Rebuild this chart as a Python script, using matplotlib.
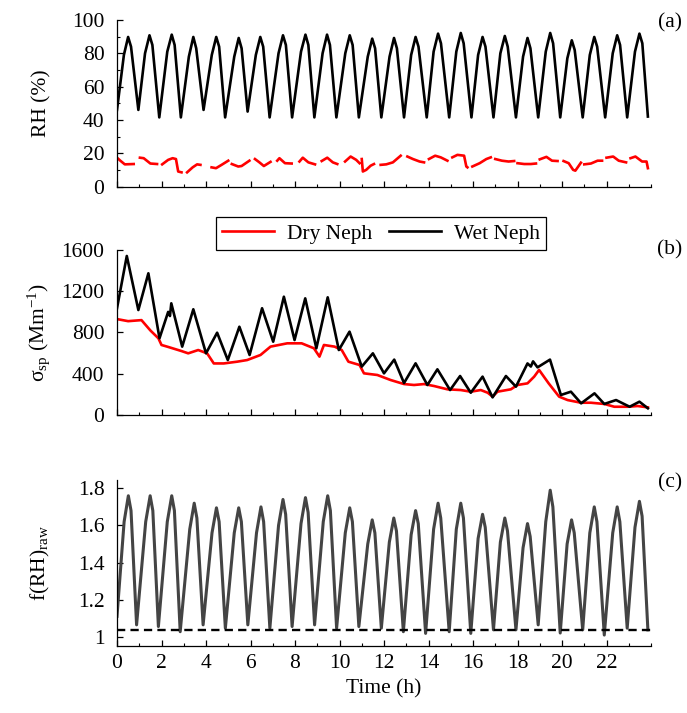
import matplotlib
matplotlib.use("Agg")
import matplotlib.pyplot as plt
import numpy as np
from matplotlib.ticker import MultipleLocator, FixedLocator

plt.rcParams['font.family'] = ['Liberation Serif', 'DejaVu Serif']
plt.rcParams['mathtext.fontset'] = 'custom'
plt.rcParams['mathtext.rm'] = 'Liberation Serif'
plt.rcParams['mathtext.it'] = 'Liberation Serif:italic'

# ---------------- Panel (a): RH ----------------
wet_rh_start = [0.0, 46.0]
wet_rh_rise_t = [0.31, 1.26, 2.26, 3.23, 4.26, 5.27, 6.24, 7.26, 8.27, 9.24, 10.26, 11.27,
                 12.25, 13.22, 14.23, 15.25, 16.23, 17.23, 18.25, 19.27, 20.24, 21.25, 22.28, 23.28]
wet_rh_rise_v = [79, 80, 81, 78, 79, 78, 79, 80, 81, 80, 80, 78,
                 78, 79, 81, 81, 79, 80, 78, 81, 77, 79, 80, 81]
wet_rh_peak_t = [0.50, 1.46, 2.46, 3.43, 4.46, 5.47, 6.44, 7.46, 8.47, 9.44, 10.46, 11.47,
                 12.45, 13.42, 14.43, 15.45, 16.43, 17.43, 18.45, 19.47, 20.44, 21.45, 22.48, 23.48]
wet_rh_peak_v = [89.8, 90.8, 91.2, 89.8, 89.8, 89.2, 89.8, 90.8, 91.2, 91.2, 90.8, 88.8,
                 89.2, 89.8, 91.8, 92.2, 89.8, 90.4, 89.2, 92.2, 87.8, 89.8, 90.8, 91.8]
wet_rh_fall_t = [0.63, 1.59, 2.59, 3.56, 4.59, 5.60, 6.57, 7.59, 8.60, 9.57, 10.59, 11.60,
                 12.58, 13.55, 14.56, 15.58, 16.56, 17.56, 18.58, 19.60, 20.57, 21.58, 22.61, 23.61]
wet_rh_fall_v = [84, 85, 85, 83, 84, 83, 84, 85, 85, 85, 85, 83,
                 83, 84, 86, 86, 84, 84, 83, 86, 82, 84, 85, 86]
wet_rh_trough_t = [0.96, 1.90, 2.87, 3.89, 4.86, 5.87, 6.86, 7.87, 8.87, 9.86, 10.87, 11.88,
                   12.90, 13.92, 14.93, 15.93, 16.92, 17.93, 18.93, 19.92, 20.93, 21.94, 22.93, 23.86]
wet_rh_trough_v = [46.0, 41.5, 41.5, 46.0, 41.5, 45.0, 41.5, 41.5, 41.5, 41.5, 41.5, 41.5,
                   41.5, 41.5, 41.5, 41.5, 41.5, 41.5, 41.5, 41.5, 41.5, 41.5, 41.5, 42.0]

# dry RH: segments separated by gaps (None)
dry_rh_t = [0.00, 0.15, 0.35, 0.75, None,
            1.03, 1.20, 1.50, 1.80, None,
            2.03, 2.30, 2.50, 2.65, 2.75, 2.90, None,
            3.15, 3.40, 3.60, 3.75, None,
            4.25, 4.45, 4.70, 5.00, None,
            5.16, 5.45, 5.60, 5.95, None,
            6.20, 6.40, 6.60, 6.90, None,
            7.20, 7.30, 7.55, 7.85, None,
            8.20, 8.35, 8.60, 8.90, None,
            9.20, 9.45, 9.70, 9.90, None,
            10.25, 10.50, 10.75, 10.90, None,
            11.00, 11.05, 11.20, 11.40, 11.55, None,
            11.85, 12.10, 12.40, 12.75, None,
            13.05, 13.30, 13.60, 13.80, None,
            14.02, 14.30, 14.55, 14.85, None,
            15.07, 15.30, 15.60, 15.70, 15.75, None,
            15.97, 16.30, 16.60, 16.80, None,
            17.00, 17.30, 17.60, 17.85, None,
            18.00, 18.30, 18.60, 18.83, None,
            19.00, 19.30, 19.55, 19.80, None,
            20.07, 20.30, 20.50, 20.60, 20.85, None,
            21.00, 21.30, 21.60, 21.80, None,
            22.00, 22.30, 22.55, 22.88, None,
            23.08, 23.30, 23.60, 23.80, 23.86]
dry_rh_v = [17.3, 15.5, 13.3, 13.5, None,
            17.3, 17.0, 13.8, 13.5, None,
            13.3, 16.0, 17.0, 16.5, 9.0, 8.5, None,
            8.5, 11.5, 13.3, 13.0, None,
            11.5, 11.0, 13.0, 15.5, None,
            13.5, 12.0, 12.3, 15.5, None,
            16.5, 14.5, 12.3, 14.8, None,
            15.5, 17.0, 14.0, 13.8, None,
            15.0, 17.3, 14.5, 13.3, None,
            15.3, 17.3, 14.5, 13.5, None,
            15.0, 18.0, 16.0, 14.0, None,
            16.5, 9.0, 10.0, 12.5, 13.5, None,
            13.0, 13.3, 14.5, 18.5, None,
            18.0, 16.5, 15.0, 14.5, None,
            16.5, 18.5, 17.5, 15.5, None,
            17.5, 19.0, 18.5, 12.0, 11.5, None,
            12.0, 14.0, 16.5, 17.5, None,
            16.5, 15.5, 15.0, 15.3, None,
            14.0, 13.5, 13.5, 13.8, None,
            16.3, 17.8, 15.5, 15.3, None,
            15.3, 14.0, 10.0, 9.5, 14.3, None,
            13.3, 13.8, 15.5, 15.5, None,
            17.3, 18.0, 15.5, 14.5, None,
            17.0, 18.0, 15.0, 15.0, 11.0]

# ---------------- Panel (b): scattering ----------------
wet_sp_t = [0.0, 0.44, 0.96, 1.41, 1.91, 2.30, 2.38, 2.44, 2.93, 3.43, 4.0, 4.5, 4.98, 5.5, 5.96, 6.52,
            7.02, 7.5, 7.98, 8.46, 8.96, 9.47, 9.97, 10.45, 11.0, 11.5, 12.0, 12.46, 12.9,
            13.42, 13.95, 14.4, 14.97, 15.42, 15.9, 16.43, 16.88, 17.48, 17.93, 18.45, 18.6,
            18.7, 18.9, 19.46, 19.95, 20.4, 20.86, 21.46, 21.9, 22.43, 23.04, 23.48, 23.86]
wet_sp_v = [1035, 1542, 1018, 1374, 744, 1000, 960, 1083, 663, 1025, 598, 798, 533, 856, 582, 1035,
            711, 1147, 727, 1131, 647, 1141, 630, 808, 469, 598, 404, 537, 310,
            501, 291, 443, 242, 378, 216, 372, 171, 378, 275, 500, 470,
            520, 462, 537, 194, 226, 113, 210, 107, 145, 80, 129, 65]
dry_sp_t = [0.0, 0.5, 1.1, 1.5, 1.86, 2.0, 2.3, 2.6, 2.9, 3.2, 3.65, 4.05, 4.35, 4.8, 5.4,
            5.85, 6.45, 6.9, 7.65, 8.3, 8.85, 9.1, 9.3, 9.78, 10.1, 10.4, 10.9, 11.1, 11.7,
            12.3, 12.9, 13.35, 13.8, 14.25, 14.85, 15.45, 15.9, 16.35, 16.66, 16.88, 17.1,
            17.7, 18.0, 18.45, 18.75, 18.97, 19.4, 19.87, 20.25, 20.85, 21.3, 21.9, 22.35,
            22.95, 23.4, 23.86]
dry_sp_v = [930, 910, 920, 820, 744, 679, 660, 640, 620, 598, 630, 598, 500, 500, 517,
            533, 582, 663, 695, 695, 647, 566, 679, 663, 630, 517, 485, 404, 388,
            339, 300, 291, 300, 281, 249, 242, 226, 242, 216, 178, 226,
            249, 291, 307, 372, 437, 307, 178, 145, 119, 119, 107, 80,
            80, 87, 74]

# ---------------- Panel (c): f(RH) ----------------
f_start = [0.0, 1.11]
f_rise_t = [0.32, 1.29, 2.26, 3.27, 4.27, 5.27, 6.27, 7.26, 8.27, 9.27, 10.26, 11.27,
            12.24, 13.22, 14.23, 15.25, 16.23, 17.23, 18.25, 19.27, 20.23, 21.25, 22.28, 23.28]
f_rise_v = [1.62, 1.62, 1.62, 1.58, 1.56, 1.56, 1.56, 1.60, 1.61, 1.62, 1.56, 1.50,
            1.51, 1.55, 1.58, 1.58, 1.53, 1.51, 1.48, 1.62, 1.50, 1.56, 1.56, 1.59]
f_peak_t = [0.51, 1.49, 2.46, 3.47, 4.47, 5.47, 6.47, 7.46, 8.47, 9.47, 10.46, 11.47,
            12.44, 13.42, 14.43, 15.45, 16.43, 17.43, 18.45, 19.47, 20.43, 21.45, 22.48, 23.48]
f_peak_v = [1.76, 1.76, 1.76, 1.72, 1.695, 1.695, 1.70, 1.74, 1.75, 1.76, 1.695, 1.63,
            1.64, 1.68, 1.72, 1.72, 1.66, 1.64, 1.61, 1.79, 1.63, 1.70, 1.70, 1.73]
f_fall_t = [0.63, 1.61, 2.58, 3.59, 4.59, 5.59, 6.59, 7.58, 8.59, 9.59, 10.58, 11.59,
            12.56, 13.54, 14.55, 15.57, 16.55, 17.55, 18.57, 19.59, 20.55, 21.57, 22.60, 23.60]
f_fall_v = [1.68, 1.68, 1.68, 1.64, 1.62, 1.62, 1.62, 1.66, 1.67, 1.68, 1.62, 1.56,
            1.57, 1.61, 1.64, 1.64, 1.59, 1.57, 1.54, 1.70, 1.56, 1.62, 1.62, 1.65]
f_trough_t = [0.88, 1.86, 2.84, 3.87, 4.87, 5.88, 6.87, 7.87, 8.88, 9.87, 10.87, 11.88,
              12.87, 13.87, 14.93, 15.90, 16.92, 17.93, 18.93, 19.92, 20.93, 21.90, 22.93, 23.86]
f_trough_v = [1.064, 1.055, 1.027, 1.064, 1.046, 1.064, 1.046, 1.055, 1.064, 1.046, 1.055, 1.046,
              1.027, 1.018, 1.027, 1.018, 1.037, 1.037, 1.064, 1.020, 1.037, 1.009, 1.046, 1.037]
f_threshold = 1.035

x_major = [0, 2, 4, 6, 8, 10, 12, 14, 16, 18, 20, 22]
x_minor = list(range(0, 25))


def cycles(start, rt, rv, pt, pv, ft, fv, tt, tv):
    t = [start[0]]
    v = [start[1]]
    for a, b, c, d, e, f, g, h in zip(rt, rv, pt, pv, ft, fv, tt, tv):
        t += [a, c, e, g]
        v += [b, d, f, h]
    return t, v


def nanlist(vals):
    return [np.nan if x is None else x for x in vals]


W, H = 687, 713
fig = plt.figure(figsize=(W / 100, H / 100), dpi=100)

left = 117 / W
width = (651 - 117) / W


def make_ax(top_px, bot_px):
    return fig.add_axes([left, 1 - bot_px / H, width, (bot_px - top_px) / H])


ax1 = make_ax(20, 186.5)
ax2 = make_ax(250, 415)
ax3 = make_ax(480, 646)

FS = 15.5

for ax in (ax1, ax2, ax3):
    ax.spines['top'].set_visible(False)
    ax.spines['right'].set_visible(False)
    ax.spines['left'].set_linewidth(0.9)
    ax.spines['bottom'].set_linewidth(0.9)
    ax.set_xlim(0, 24)
    ax.xaxis.set_major_locator(FixedLocator(x_major))
    ax.xaxis.set_minor_locator(FixedLocator(x_minor))
    ax.tick_params(which='major', direction='in', length=4, width=0.9, labelsize=FS)
    ax.tick_params(axis='y', which='major', pad=9)
    ax.tick_params(axis='x', which='major', pad=6)
    ax.tick_params(which='minor', direction='in', length=2.5, width=0.8)
    ax.patch.set_alpha(0)

# (a)
t, v = cycles(wet_rh_start, wet_rh_rise_t, wet_rh_rise_v, wet_rh_peak_t, wet_rh_peak_v,
              wet_rh_fall_t, wet_rh_fall_v, wet_rh_trough_t, wet_rh_trough_v)
ax1.plot(t, v, color='black', lw=1.9)
ax1.plot(nanlist(dry_rh_t), nanlist(dry_rh_v), color='#ff0000', lw=1.9)
ax1.set_ylim(0, 100)
ax1.yaxis.set_major_locator(MultipleLocator(20))
ax1.yaxis.set_minor_locator(MultipleLocator(10))
ax1.set_xticklabels([])
ax1.set_ylabel('RH (%)', fontsize=FS)

# (b)
l_dry, = ax2.plot(dry_sp_t, dry_sp_v, color='#ff0000', lw=1.9, label='Dry Neph')
l_wet, = ax2.plot(wet_sp_t, wet_sp_v, color='black', lw=1.9, label='Wet Neph')
ax2.set_ylim(0, 1600)
ax2.yaxis.set_major_locator(MultipleLocator(400))
ax2.set_xticklabels([])
ax2.set_ylabel('σ$_{\\rm sp}$ (Mm$^{-1}$)', fontsize=FS)

# (c)
t, v = cycles(f_start, f_rise_t, f_rise_v, f_peak_t, f_peak_v,
              f_fall_t, f_fall_v, f_trough_t, f_trough_v)
ax3.plot(t, v, color='#444444', lw=2.2)
ax3.axhline(f_threshold, color='black', lw=1.7, ls=(0, (3.5, 2.2)))
ax3.set_ylim(0.95, 1.845)
ax3.yaxis.set_major_locator(FixedLocator([1.0, 1.2, 1.4, 1.6, 1.8]))
ax3.set_yticklabels(['1', '1.2', '1.4', '1.6', '1.8'])
ax3.set_xticklabels([str(x) for x in x_major])
ax3.set_xlabel('Time (h)', fontsize=FS)
ax3.set_ylabel('f(RH)$_{\\rm raw}$', fontsize=FS)

for ax in (ax1, ax2, ax3):
    ax.yaxis.set_label_coords(-0.122, 0.5)

leg = fig.legend(handles=[l_dry, l_wet], loc='center',
                 bbox_to_anchor=(381 / W, 1 - 233.5 / H), ncol=2, fontsize=FS,
                 frameon=True, fancybox=False, edgecolor='black', framealpha=1,
                 handlelength=2.4, columnspacing=0.8, handletextpad=0.6,
                 borderpad=0.3, borderaxespad=0)
leg.get_frame().set_linewidth(0.9)

fig.text(670 / W, 1 - 23 / H, '(a)', ha='center', va='center', fontsize=FS)
fig.text(670 / W, 1 - 250 / H, '(b)', ha='center', va='center', fontsize=FS)
fig.text(670 / W, 1 - 483 / H, '(c)', ha='center', va='center', fontsize=FS)

fig.savefig('out.png', dpi=100)
